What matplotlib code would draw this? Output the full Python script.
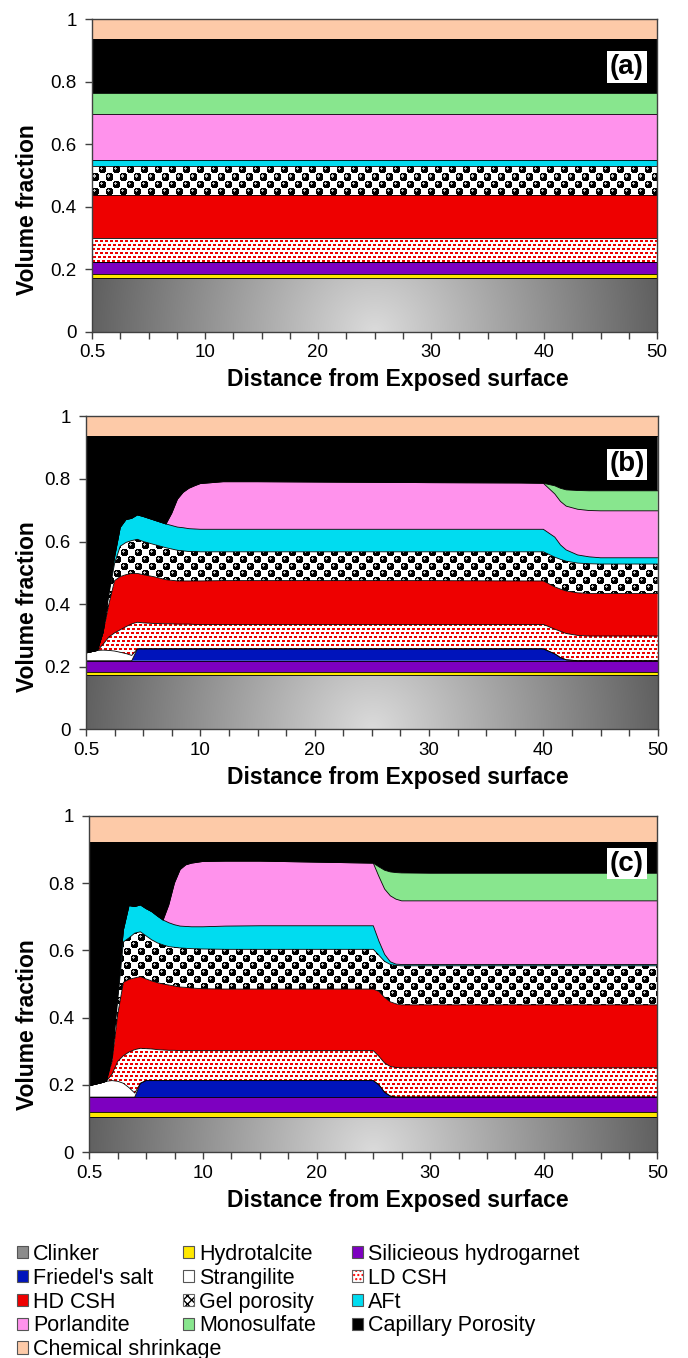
import numpy as np
import matplotlib
matplotlib.use("Agg")
import matplotlib.pyplot as plt
from matplotlib.patches import Patch

plt.rcParams['font.family'] = ['Liberation Sans', 'DejaVu Sans']
plt.rcParams['hatch.linewidth'] = 1.0

W, H = 688, 1358

names = ['Clinker', 'Hydrotalcite', 'Silicieous hydrogarnet', "Friedel's salt",
         'Strangilite', 'LD CSH', 'HD CSH', 'Gel porosity', 'AFt', 'Porlandite',
         'Monosulfate', 'Capillary Porosity', 'Chemical shrinkage']
colors = ['#8c8c8c', '#ffe800', '#7d00c0', '#0014bb', '#ffffff', '#ffffff',
          '#ee0000', '#ffffff', '#00dcf0', '#ff92ec', '#88e68e', '#000000', '#fdcaa8']

tick_pos = [0, 10, 20, 30, 40, 50]
tick_labels = ['0.5', '10', '20', '30', '40', '50']

# ---- panel (a): initial state, uniform with depth
xa = [0, 50]
a_clinker = [0.173, 0.173]
a_hydro = [0.012, 0.012]
a_sh = [0.037, 0.037]
a_friedel = [0.0, 0.0]
a_strang = [0.0, 0.0]
a_ld = [0.079, 0.079]
a_hd = [0.135, 0.135]
a_gel = [0.094, 0.094]
a_aft = [0.019, 0.019]
a_port = [0.149, 0.149]
a_mono = [0.065, 0.065]
a_cap = [0.173, 0.173]
a_chem = [0.064, 0.064]

# ---- panel (b)
xb = [0, 0.5, 1, 1.5, 2, 2.5, 3, 3.5, 4, 4.5, 5, 6, 7, 7.5, 8, 8.5, 9, 9.5, 10,
      12, 15, 20, 30, 38, 40, 41, 41.5, 42, 43, 44, 45, 50]
b_clinker = [0.172] * len(xb)
b_hydro = [0.011] * len(xb)
b_sh = [0.036] * len(xb)
b_friedel = [0, 0, 0, 0, 0, 0, 0, 0, 0, .038, .038, .038, .038, .038, .038, .038,
             .038, .038, .038, .038, .038, .038, .038, .038, .038, .022, .010, .003,
             0, 0, 0, 0]
b_strang = [.025, .029, .033, .034, .033, .031, .027, .023, .017, 0, 0, 0, 0, 0, 0, 0,
            0, 0, 0, 0, 0, 0, 0, 0, 0, 0, 0, 0, 0, 0, 0, 0]
b_ld = [0, 0, 0, .019, .043, .058, .072, .086, .101, .085, .083, .081, .080, .080,
        .079, .079, .079, .078, .078, .078, .078, .078, .078, .078, .078, .079, .084,
        .084, .081, .079, .079, .079]
b_hd = [0, 0, 0, .038, .105, .167, .170, .166, .161, .156, .154, .149, .141, .139,
        .138, .138, .138, .139, .139, .140, .140, .140, .140, .139, .139, .135, .135,
        .136, .136, .136, .136, .136]
b_gel = [0, 0, 0, 0, .030, .055, .097, .103, .105, .109, .106, .103, .102, .100, .098,
         .096, .094, .094, .093, .092, .092, .092, .092, .093, .093, .095, .095, .095,
         .095, .095, .094, .094]
b_aft = [0, 0, 0, 0, .010, .020, .060, .073, .071, .078, .080, .078, .076, .075, .074,
         .074, .073, .072, .072, .072, .072, .072, .072, .072, .072, .064, .046, .036,
         .026, .022, .020, .020]
b_port = [0, 0, 0, 0, 0, 0, 0, 0, 0, 0, 0, 0, 0, .039, .089, .113, .129, .138, .146,
          .152, .152, .151, .149, .148, .147, .138, .139, .140, .146, .148, .150, .150]
b_mono = [0, 0, 0, 0, 0, 0, 0, 0, 0, 0, 0, 0, 0, 0, 0, 0, 0, 0, 0, 0, 0, 0, 0, 0, 0,
          .026, .042, .052, .060, .063, .064, .064]
b_cap = [.693, .689, .685, .627, .497, .387, .292, .267, .263, .252, .257, .269, .281,
         .247, .202, .180, .167, .159, .152, .146, .146, .147, .149, .150, .151, .159,
         .167, .172, .174, .175, .175, .175]
b_chem = [0.063] * len(xb)

# ---- panel (c)
xc = [0, 0.5, 1, 1.5, 2, 2.5, 3, 3.5, 4, 4.5, 5, 5.5, 6, 6.5, 7, 7.5, 8, 8.5, 9, 10,
      12, 15, 20, 25, 25.5, 26, 26.5, 27, 27.5, 30, 40, 50]
c_clinker = [0.105] * len(xc)
c_hydro = [0.016] * len(xc)
c_sh = [0.043] * len(xc)
c_friedel = [0, 0, 0, 0, 0, 0, 0, 0, 0, .041, .049, .049, .049, .049, .049, .049, .049,
             .049, .049, .049, .049, .049, .049, .049, .036, .014, .003, 0, 0, 0, 0, 0]
c_strang = [.034, .038, .042, .047, .049, .047, .041, .028, .012, 0, 0, 0, 0, 0, 0, 0,
            0, 0, 0, 0, 0, 0, 0, 0, 0, 0, 0, 0, 0, 0, 0, 0]
c_ld = [0, 0, 0, 0, .019, .059, .082, .106, .129, .104, .095, .094, .092, .091, .090,
        .090, .089, .089, .089, .089, .089, .089, .089, .089, .085, .087, .088, .088,
        .087, .087, .087, .087]
c_hd = [0, 0, 0, 0, .038, .140, .218, .216, .213, .213, .207, .202, .199, .196, .194,
        .191, .189, .188, .186, .184, .183, .183, .183, .183, .193, .195, .192, .189,
        .187, .187, .187, .187]
c_gel = [0, 0, 0, 0, .010, .040, .120, .123, .133, .133, .128, .122, .118, .116, .114,
         .115, .116, .116, .117, .118, .118, .118, .118, .118, .107, .107, .111, .114,
         .116, .116, .116, .116]
c_aft = [0, 0, 0, 0, .005, .020, .035, .096, .079, .080, .081, .084, .080, .074, .071,
         .067, .065, .065, .065, .066, .069, .070, .070, .070, .042, .021, .008, .004,
         .004, .004, .004, .004]
c_port = [0, 0, 0, 0, 0, 0, 0, 0, 0, 0, 0, 0, 0, 0, .053, .124, .168, .183, .189, .194,
          .193, .192, .189, .186, .192, .194, .196, .193, .189, .189, .189, .189]
c_mono = [0, 0, 0, 0, 0, 0, 0, 0, 0, 0, 0, 0, 0, 0, 0, 0, 0, 0, 0, 0, 0, 0, 0, 0,
          .029, .056, .071, .079, .083, .082, .082, .082]
c_cap = [.725, .721, .717, .712, .638, .453, .263, .190, .193, .188, .199, .208, .221,
         .233, .188, .123, .083, .069, .064, .059, .058, .058, .061, .064, .075, .085,
         .090, .092, .093, .094, .094, .094]
c_chem = [0.077] * len(xc)


def tex_clinker(h, w):
    yy, xx = np.mgrid[0:h, 0:w]
    r = np.hypot(xx - w / 2, h - yy) / (w / 2)
    g = np.clip(0.86 - 0.48 * r, 0.3, 1)
    return np.dstack([g, g, g])


def tex_ld(h, w):
    yy, xx = np.mgrid[0:h, 0:w]
    row = yy // 4
    dots = (yy % 4 < 2) & ((xx + 2 * (row % 3)) % 5 < 3)
    img = np.ones((h, w, 3))
    img[dots] = (0.93, 0.0, 0.0)
    return img


def tex_gel(h, w):
    yy, xx = np.mgrid[0:h, 0:w]
    c = 7
    on = ((xx // c) + (yy // c)) % 2 == 0
    dx = xx % c - 3
    dy = yy % c - 3
    img = np.ones((h, w, 3))
    img[on & (dx ** 2 + dy ** 2 <= 14)] = 0.0
    img[on & ((dx + 1) ** 2 + (dy + 1) ** 2 <= 1)] = 0.75
    return img


fig = plt.figure(figsize=(W / 100, H / 100), dpi=100)


def draw_panel(box, x, layers, tag, ylab_y):
    left, right, top, bottom = box
    ax = fig.add_axes([left / W, 1 - bottom / H, (right - left) / W, (bottom - top) / H])
    colls = ax.stackplot(x, *layers, colors=colors, linewidth=0)
    wpx, hpx = int(round(right - left)), int(round(bottom - top))
    for idx, tex in ((0, tex_clinker), (5, tex_ld), (7, tex_gel)):
        im = ax.imshow(tex(hpx, wpx), extent=[0, 50, 0, 1], aspect='auto',
                       interpolation='nearest', zorder=1.5)
        im.set_clip_path(colls[idx].get_paths()[0], ax.transData)
    tops = np.cumsum(np.vstack(layers), axis=0)
    for row in tops[:-1]:
        ax.plot(x, row, color='black', lw=0.6, zorder=2)
    ax.set_xlim(0, 50)
    ax.set_ylim(0, 1)
    ax.set_xticks(tick_pos, tick_labels)
    ax.set_xticks(np.arange(0, 50.1, 2.5), minor=True)
    ax.set_yticks([0, 0.2, 0.4, 0.6, 0.8, 1], ['0', '0.2', '0.4', '0.6', '0.8', '1'])
    ax.tick_params(which='both', direction='out', length=5, width=1, color='#404040',
                   labelsize=13.5)
    ax.tick_params(axis='y', pad=6)
    ax.tick_params(axis='x', pad=4)
    for s in ax.spines.values():
        s.set_color('#404040')
        s.set_linewidth(1)
        s.set_zorder(3)
    fig.text(627 / W, 1 - (top + 48) / H, tag, fontsize=20, fontweight='bold',
             ha='center', va='center',
             bbox=dict(boxstyle='square,pad=0.1', fc='white', ec='none'))
    fig.text(28 / W, 1 - ylab_y / H, 'Volume fraction', rotation=90, fontsize=16.5,
             fontweight='bold', ha='center', va='center')
    fig.text(398 / W, 1 - (bottom + 48) / H, 'Distance from Exposed surface',
             fontsize=16.5, fontweight='bold', ha='center', va='center')
    return ax


draw_panel((92, 657, 19.2, 331.7), xa,
           [a_clinker, a_hydro, a_sh, a_friedel, a_strang, a_ld, a_hd, a_gel, a_aft,
            a_port, a_mono, a_cap, a_chem], '(a)', 210)
draw_panel((86, 657.7, 416.3, 729.3), xb,
           [b_clinker, b_hydro, b_sh, b_friedel, b_strang, b_ld, b_hd, b_gel, b_aft,
            b_port, b_mono, b_cap, b_chem], '(b)', 607)
draw_panel((89.3, 657.3, 815.7, 1152.3), xc,
           [c_clinker, c_hydro, c_sh, c_friedel, c_strang, c_ld, c_hd, c_gel, c_aft,
            c_port, c_mono, c_cap, c_chem], '(c)', 1025)


def handle(i):
    if names[i] == 'LD CSH':
        return (Patch(fc='white', ec='red', hatch='....', lw=0),
                Patch(fc='none', ec='#666666', lw=0.8))
    if names[i] == 'Gel porosity':
        return (Patch(fc='white', ec='black', hatch='xxxx', lw=0),
                Patch(fc='none', ec='#666666', lw=0.8))
    return Patch(fc=colors[i], ec='#555555', lw=0.8)


for xpos, group in ((17, [0, 3, 6, 9, 12]), (183, [1, 4, 7, 10]), (352, [2, 5, 8, 11])):
    fig.legend([handle(i) for i in group], [names[i] for i in group],
               loc='upper left', bbox_to_anchor=(xpos / W, 1 - 1244 / H),
               frameon=False, fontsize=15.5, handlelength=0.5, handleheight=0.5,
               handletextpad=0.25, labelspacing=0.13, borderaxespad=0, borderpad=0)

fig.savefig('out.png', dpi=100)
